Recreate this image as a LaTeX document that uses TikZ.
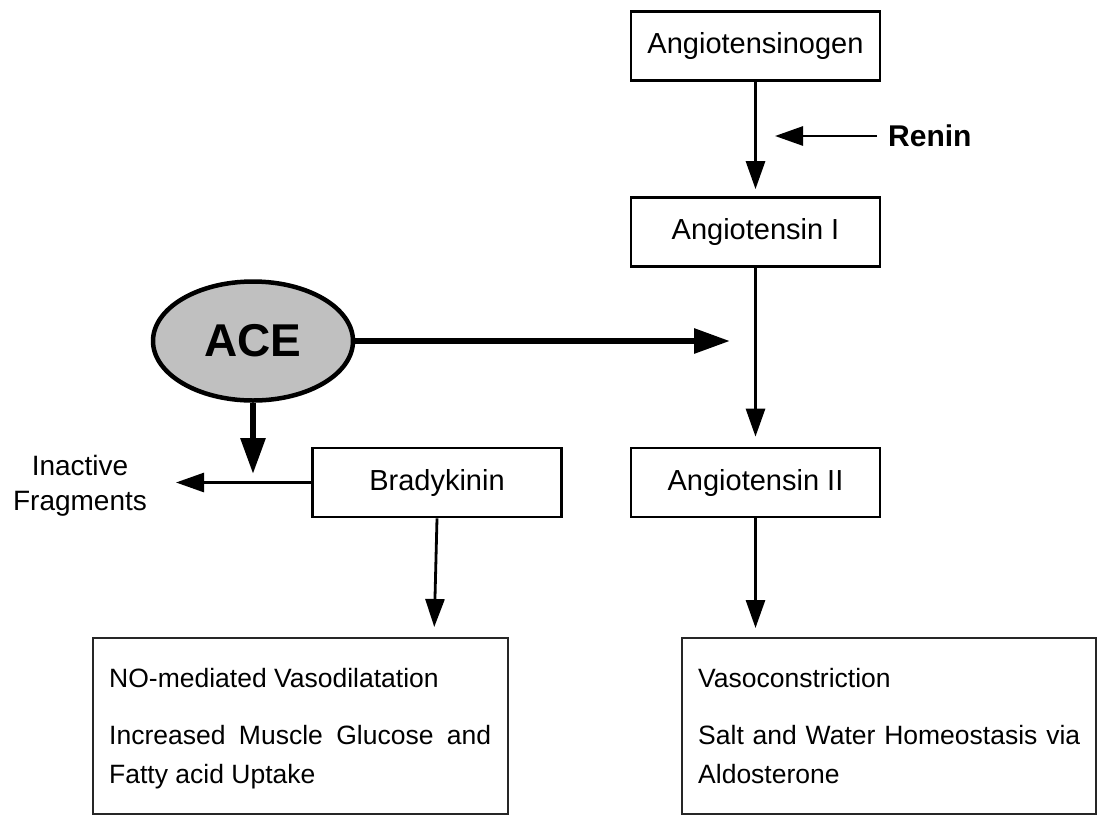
\documentclass[tikz,border=0pt]{standalone}
\usepackage{fontspec}
\setmainfont{Liberation Sans}
\usetikzlibrary{arrows.meta,shapes.geometric,calc}
\definecolor{acegray}{HTML}{C0C0C0}
\begin{document}
\begin{tikzpicture}[x=1pt,y=-1pt,
  box/.style={draw,line width=2.7pt,minimum width=249pt,minimum height=69pt,inner sep=0pt,
    font=\fontsize{29}{34}\selectfont},
  outbox/.style={draw=black!85,line width=2pt,minimum height=176pt,inner sep=0pt},
  outtext/.style={text width=382pt,align=justify,inner sep=0pt,anchor=north west,
    font=\fontsize{26.5}{39}\selectfont},
  flow/.style={line width=2.8pt,-{Triangle[length=28pt,width=19pt]}},
  heavy/.style={line width=6pt,-{Triangle[length=36pt,width=24pt]}},
]
\useasboundingbox (0,0) rectangle (1097,815);

% pathway boxes
\node[box] (agt)   at (755.5,46)    {Angiotensinogen};
\node[box] (ang1)  at (755.5,232)   {Angiotensin I};
\node[box] (ang2)  at (755.5,482.5) {Angiotensin II};
\node[box] (brady) at (437,482.5)   {Bradykinin};

% enzyme
\node[ellipse,draw,line width=4.5pt,fill=acegray,minimum width=200pt,minimum height=119pt,
  inner sep=0pt,font=\bfseries\fontsize{46}{50}\selectfont] (ace) at (253,341) {ACE};

% labels
\node[anchor=west,inner sep=0pt,font=\bfseries\fontsize{30}{34}\selectfont] (renin) at (888,136) {Renin};
\node[anchor=north,inner sep=0pt,align=center,font=\fontsize{28}{35}\selectfont] (inact) at (80,455)
  {Inactive\\Fragments};

% effect boxes
\node[outbox,minimum width=415pt] (leftbox)  at (300.5,726) {};
\node[outbox,minimum width=414pt] (rightbox) at (889,726) {};
\node[outtext] (lefttext) at ($(leftbox.north west)+(17,31)$)
  {NO-mediated Vasodilatation\\[18pt]Increased Muscle Glucose and Fatty acid Uptake};
\node[outtext] (righttext) at ($(rightbox.north west)+(17,31)$)
  {Vasoconstriction\\[18pt]Salt and Water Homeostasis via Aldosterone};

% connector end points
\coordinate (reninTip) at (775,136);
\coordinate (aceTip)   at (730,341);
\coordinate (aceDown)  at (253,474);
\coordinate (fragTip)  at (176,482.5);

% connectors
\draw[flow,shorten >=7pt] (agt.south) -- (ang1.north);
\draw[flow,shorten <=11pt] (renin.west) -- (reninTip);
\draw[flow,shorten >=10pt] (ang1.south) -- (ang2.north);
\draw[heavy] (ace.east) -- (aceTip);
\draw[heavy] (ace.south) -- (aceDown);
\draw[flow] (brady.west) -- (fragTip);
\draw[flow,shorten >=10pt] (brady.south) -- ($(leftbox.north west)+(342,0)$);
\draw[flow,shorten >=9pt] (ang2.south) -- (ang2.south |- rightbox.north);
\end{tikzpicture}
\end{document}
